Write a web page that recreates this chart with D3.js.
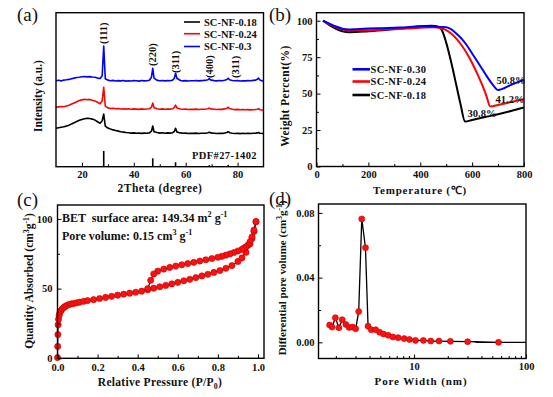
<!DOCTYPE html>
<html><head><meta charset="utf-8">
<script src="https://cdn.jsdelivr.net/npm/d3@7"></script>
<style>body{margin:0;background:#fff}svg{display:block}text{white-space:pre}</style>
</head><body>
<script>
// ---------- (a) XRD ----------
const xrdTheta = [10,11,12,13,14,15,16,17,18,19,20,21,22,23,24,25,26,27,27.8,28.4,29,
 30,31,32,33,34,35,36,37,38,39,40,41,42,43,44,45,46,46.8,47.3,47.8,
 49,50,51,52,53,54,55,55.6,56.1,56.6,58,59,60,61,62,63,64,65,66,67,68,68.6,69.1,69.6,
 71,72,73,74,75,75.9,76.4,76.9,78,79,80,81,82,83,84,85,86,87,87.6,88.1,88.6,90];
const xrdBlue = [86.0,86.4,85.8,86.6,86.9,87.3,88.0,88.6,89.2,89.5,89.9,90.2,89.8,90.1,89.7,89.4,88.6,88.2,
 91.0,120.7,88.0,
 86.6,86.0,86.3,85.7,86.1,85.8,86.2,85.6,86.0,85.7,86.1,85.9,85.6,86.2,85.8,86.0,86.4,
 89.5,98.4,88.5,
 86.3,85.9,86.2,85.8,86.1,86.0,86.6,
 88.5,93.4,88.4,
 86.2,85.8,86.1,85.7,86.0,85.9,86.2,85.8,86.1,86.3,86.6,
 87.0,88.0,86.8,
 86.1,85.8,86.2,85.9,86.5,
 87.2,88.5,87.0,
 86.2,85.9,86.1,85.7,86.0,85.8,86.1,85.9,86.3,86.6,
 87.4,88.6,86.8,
 85.5];
const xrdRed = [59.4,59.8,60.2,60.0,60.8,61.5,62.6,63.8,65.0,66.2,66.8,67.4,67.0,67.3,66.5,65.8,64.4,62.8,
 66.0,79.4,60.5,
 58.8,58.2,58.4,57.9,58.2,57.7,58.0,57.6,57.9,57.5,57.8,57.6,57.3,57.8,57.5,57.7,57.9,
 59.5,63.7,59.0,
 57.9,57.5,57.8,57.4,57.7,57.6,58.0,
 59.0,61.5,58.8,
 57.7,57.4,57.6,57.2,57.5,57.3,57.6,57.2,57.5,57.4,57.7,
 58.0,58.6,57.8,
 57.5,57.2,57.5,57.3,57.8,
 58.4,59.5,58.2,
 57.4,57.1,57.3,57.0,57.2,56.9,57.1,56.8,57.0,57.2,
 57.5,58.0,57.0,
 56.4];
const xrdBlack = [38.4,39.0,39.5,40.0,40.6,41.5,42.8,44.0,45.2,46.4,47.2,48.0,48.4,48.2,47.6,46.6,45.0,43.4,
 46.0,52.7,40.5,
 38.6,37.6,36.8,36.2,35.6,35.0,34.6,34.2,33.9,33.6,33.8,33.4,33.6,33.3,33.6,33.4,33.8,
 35.5,40.7,35.0,
 34.2,33.6,34.0,33.5,33.8,33.6,34.0,
 35.2,38.4,34.8,
 33.8,33.4,33.6,33.2,33.5,33.3,33.6,33.2,33.5,33.4,33.6,
 34.0,34.5,33.8,
 33.5,33.2,33.5,33.3,33.6,
 34.2,35.0,34.0,
 33.5,33.2,33.4,33.1,33.4,33.2,33.5,33.2,33.4,33.6,
 33.8,34.2,33.4,
 33.2];
const pdfTheta = [28.4,47.3,56.1,69.1,76.4];
const pdfInt = [15.7,8.4,4.4,1.5,1.8];
const peakLabels = ["(111)","(220)","(311)","(400)","(311)"];
const peakLabelTheta = [28.4,47.3,56.1,69.1,79];
const xrdSeries = ["SC-NF-0.18","SC-NF-0.24","SC-NF-0.3"];
const xrdTicks = [20,40,60,80];

// ---------- (b) TGA ----------
const tgaNames = ["SC-NF-0.30","SC-NF-0.24","SC-NF-0.18"];
const tBlue = [25,50,75,100,125,150,200,250,300,350,400,450,500,520,540,560,580,600,620,640,660,680,700,750,800];
const wBlue = [100,98,96,94.5,94,94.2,94.6,94.9,95.2,95.5,96.2,96,95.5,94,91,87.5,83,77.5,72,66.5,61,56,52.5,56,59.6];
const tRed = [25,50,75,100,125,150,200,250,300,350,400,450,480,500,520,540,560,580,600,620,640,655,670,700,750,800];
const wRed = [100,97.5,95.5,94,93.5,93.4,93.5,93.8,94.2,94.6,95.2,95.5,94.8,93.5,91,87.5,83,77.5,71,63.5,55.5,48.5,41.2,42.2,44.2,46.3];
const tBlack = [25,50,75,100,125,150,200,250,300,350,400,440,460,480,500,520,540,555,573,600,650,700,750,800];
const wBlack = [100,97,94.5,92.8,92.1,92.2,92.8,93.4,94.3,95.2,96.2,96.6,96.4,94.5,85,71,55,43,30.8,31.9,33.9,35.9,38.1,40.5];
const residueLabels = ["50.8%","41.2%","30.8%"];
const tgaXTicks = [0,200,400,600,800];
const tgaYTicks = [0,25,50,75,100];

// ---------- (c) N2 isotherm ----------
const adsP = [0.0,0.001,0.002,0.003,0.005,0.008,0.012,0.017,0.023,0.03,0.038,0.047,0.057,0.068,0.08,0.095,0.11,0.13,0.15,0.18,0.21,0.24,0.27,0.3,0.33,0.36,0.39,0.42,0.45,0.48,0.51,0.54,0.57,0.6,0.63,0.66,0.69,0.72,0.75,0.78,0.81,0.84,0.87,0.9,0.92,0.94,0.96,0.97,0.98,0.99];
const adsQ = [0.5,8.5,17,24,28,30.8,32.8,34.2,35.3,36.3,37.2,38.0,38.6,39.0,39.3,39.8,40.3,40.9,41.4,42.1,42.9,43.7,44.5,45.3,46.0,46.7,47.4,48.2,49.2,50.3,51.3,52.3,53.4,54.5,55.6,56.7,57.9,59.1,60.3,61.6,63.0,64.6,66.5,69.5,72.0,76.0,82,86,91,98];
const desP = [0.99,0.98,0.97,0.96,0.95,0.94,0.93,0.92,0.9,0.88,0.86,0.84,0.82,0.8,0.77,0.74,0.71,0.68,0.65,0.62,0.59,0.56,0.53,0.5,0.48,0.465,0.45];
const desQ = [98,92,87,83.5,81.2,80.0,79.0,78.2,77.0,75.9,74.9,74.0,73.2,72.5,71.6,70.7,69.8,68.9,68.0,67.1,66.2,65.2,64.0,62.5,60.5,56,50];
const isoXTicks = [0,0.2,0.4,0.6,0.8,1.0];
const isoYTicks = [0,50,100];

// ---------- (d) pore size distribution ----------
const poreW = [1.76,1.85,1.98,2.13,2.28,2.46,2.63,2.82,3.01,3.2,3.41,3.68,3.88,4.15,4.54,4.92,5.34,5.88,6.47,7.21,8.15,9.1,10.3,12.1,14.1,16.7,21.1,30.1,56.8];
const poreV = [0.0107,0.0094,0.0152,0.009,0.014,0.011,0.0092,0.0094,0.0084,0.019,0.0763,0.0585,0.010,0.0078,0.0078,0.0062,0.0051,0.0043,0.0033,0.0029,0.0023,0.0018,0.0012,0.0012,0.0008,0.0008,0.0006,0.0004,0.0];
const poreTailW = [34,36,100];
const poreTailV = [0.0004,0.0,0.0];
const psdXTicks = [10,100];
const psdYTicks = [0,0.04,0.08];

// ================= drawing =================
const FONT = '"Liberation Serif","Times New Roman",serif';
const svg = d3.select("body").append("svg").attr("width",553).attr("height",397);

function addAxis(axis, transform, fs) {
  const a = svg.append("g").attr("transform", transform).call(axis);
  a.select(".domain").remove();
  a.selectAll(".tick line").attr("stroke","#000").attr("stroke-width",1);
  a.selectAll(".tick text").attr("font-family",FONT).attr("font-weight","bold")
   .attr("font-size",fs||10.5).attr("fill","#111");
  return a;
}
function frame(x,y){
  const [x0,x1]=x.range(); const [y1,y0]=y.range();
  svg.append("rect").attr("x",x0).attr("y",y0).attr("width",x1-x0).attr("height",y1-y0)
    .attr("fill","none").attr("stroke","#000").attr("stroke-width",1.4);
}
function txt(s,x,y,o={}){
  const t = svg.append("text").attr("x",x).attr("y",y).attr("font-family",FONT)
    .attr("font-weight",o.w||"bold").attr("font-size",o.fs||11).attr("fill",o.fill||"#111")
    .attr("text-anchor",o.anchor||"start");
  if(o.ls) t.attr("letter-spacing",o.ls);
  if(o.rot) t.attr("transform",`rotate(${o.rot},${x},${y})`);
  if(Array.isArray(s)) rich(t,s,o.fs||11); else t.text(s);
  return t;
}
function rich(sel, parts, fs){
  let shift=0;
  parts.forEach(([s,k])=>{
    const target = k==="sup" ? -0.38*fs : k==="sub" ? 0.28*fs : 0;
    const ts = sel.append("tspan").text(s).attr("dy", target-shift);
    if(k) ts.attr("font-size", fs*0.68);
    shift = target;
  });
}
const zip = (a,b)=>a.map((v,i)=>[v,b[i]]);

// ---- panel (a)
{
  const x = d3.scaleLinear().domain([10,90]).range([56,263.5]);
  const y = d3.scaleLinear().domain([0,154]).range([166.7,12.7]);
  const line = d3.line().x(d=>x(d[0])).y(d=>y(d[1]));
  [[xrdBlack,"#000"],[xrdRed,"#ff0000"],[xrdBlue,"#0000ff"]].forEach(([s,c])=>{
    svg.append("path").datum(zip(xrdTheta,s)).attr("d",line).attr("fill","none")
      .attr("stroke",c).attr("stroke-width",1.6).attr("stroke-linejoin","round");
  });
  svg.selectAll(".pdf").data(zip(pdfTheta,pdfInt)).enter().append("line")
    .attr("x1",d=>x(d[0])).attr("x2",d=>x(d[0])).attr("y1",y(0)).attr("y2",d=>y(d[1]))
    .attr("stroke","#000").attr("stroke-width",1.6);
  frame(x,y);
  addAxis(d3.axisBottom(x).tickValues(xrdTicks).tickSize(-4).tickPadding(4), `translate(0,${y(0)})`);
  addAxis(d3.axisBottom(x).tickValues([30,50,70]).tickSize(-2.5).tickFormat(""), `translate(0,${y(0)})`);
  const lbBottom = [44,66,73,78,78];
  peakLabels.forEach((l,i)=>{
    txt(l, x(peakLabelTheta[i]), lbBottom[i], {rot:-90, fs:10.5}).attr("dy","0.35em");
  });
  const colors=["#000","#ff0000","#0000ff"]; const rows=[22,33.7,46.5];
  xrdSeries.forEach((n,i)=>{
    svg.append("line").attr("x1",184).attr("x2",200).attr("y1",rows[i]).attr("y2",rows[i])
      .attr("stroke",colors[i]).attr("stroke-width",1.6);
    txt(n,204,rows[i]+3.8,{fs:10.5});
  });
  txt("PDF#27-1402",257,158.5,{fs:10.5,anchor:"end",ls:0.4});
  txt("2Theta (degree)",160,192,{fs:11.5,anchor:"middle",ls:0.5});
  txt("Intensity (a.u.)",42,96,{fs:11.5,anchor:"middle",rot:-90});
  txt("(a)",17,21,{fs:19,w:"normal"});
}

// ---- panel (b)
{
  const x = d3.scaleLinear().domain([0,800]).range([316.5,524]);
  const y = d3.scaleLinear().domain([0,105.5]).range([166.5,12.7]);
  const line = d3.line().x(d=>x(d[0])).y(d=>y(d[1])).curve(d3.curveMonotoneX);
  [[tBlack,wBlack,"#000"],[tRed,wRed,"#ff0000"],[tBlue,wBlue,"#0000ff"]].forEach(([t,w,c])=>{
    svg.append("path").datum(zip(t,w)).attr("d",line).attr("fill","none")
      .attr("stroke",c).attr("stroke-width",2);
  });
  frame(x,y);
  addAxis(d3.axisBottom(x).tickValues(tgaXTicks).tickSize(-4).tickPadding(4), `translate(0,${y(0)})`);
  addAxis(d3.axisBottom(x).tickValues([100,300,500,700]).tickSize(-2.5).tickFormat(""), `translate(0,${y(0)})`);
  addAxis(d3.axisLeft(y).tickValues(tgaYTicks).tickSize(-4).tickPadding(4), `translate(${x(0)},0)`);
  addAxis(d3.axisLeft(y).tickValues([12.5,37.5,62.5,87.5]).tickSize(-2.5).tickFormat(""), `translate(${x(0)},0)`);
  const colors=["#0000ff","#ff0000","#000"]; const rows=[69.3,81.5,95];
  tgaNames.forEach((n,i)=>{
    svg.append("line").attr("x1",352.5).attr("x2",370).attr("y1",rows[i]).attr("y2",rows[i])
      .attr("stroke",colors[i]).attr("stroke-width",2.6);
    txt(n,370.5,rows[i]+3.8,{fs:10.5,ls:0.3});
  });
  txt(residueLabels[0],496.5,84,{fs:10.5});
  txt(residueLabels[1],495.5,103,{fs:10.5});
  txt(residueLabels[2],467.5,117,{fs:10.5});
  txt("Temperature (℃)",420,194,{fs:11,anchor:"middle",ls:0.8});
  txt("Weight Percent(%)",289,96,{fs:11.5,anchor:"middle",rot:-90,ls:0.4});
  txt("(b)",269,21,{fs:19,w:"normal"});
}

// ---- panel (c)
{
  const x = d3.scaleLinear().domain([0,1.03]).range([57.5,264]);
  const y = d3.scaleLinear().domain([0,110]).range([358.3,205]);
  const line = d3.line().x(d=>x(d[0])).y(d=>y(d[1]));
  const ads = zip(adsP,adsQ), des = zip(desP,desQ);
  [ads,des].forEach(s=>svg.append("path").datum(s).attr("d",line).attr("fill","none")
      .attr("stroke","#000").attr("stroke-width",1.1));
  svg.selectAll(".iso").data(ads.concat(des)).enter().append("circle")
    .attr("cx",d=>x(d[0])).attr("cy",d=>y(d[1])).attr("r",3.1)
    .attr("fill","#ff1010").attr("stroke","#c00000").attr("stroke-width",0.6);
  frame(x,y);
  addAxis(d3.axisBottom(x).tickValues(isoXTicks).tickFormat(d3.format(".1f")).tickSize(-4).tickPadding(5.5), `translate(0,${y(0)})`);
  addAxis(d3.axisBottom(x).tickValues([0.1,0.3,0.5,0.7,0.9]).tickSize(-2.5).tickFormat(""), `translate(0,${y(0)})`);
  addAxis(d3.axisLeft(y).tickValues(isoYTicks).tickSize(-4).tickPadding(5), `translate(${x(0)},0)`);
  addAxis(d3.axisLeft(y).tickValues([25,75]).tickSize(-2.5).tickFormat(""), `translate(${x(0)},0)`);
  txt([["BET  surface area: 149.34 m"],["2","sup"],[" g"],["-1","sup"]],62,222,{fs:12});
  txt([["Pore volume: 0.15 cm"],["3","sup"],[" g"],["-1","sup"]],62,240,{fs:12});
  txt([["Relative Pressure (P/P"],["0","sub"],[")"]],160,386,{fs:11.5,anchor:"middle",ls:0.3});
  txt([["Quantity Absorbed (cm"],["3","sup"],["g"],["-1","sup"],[")"]],33,281,{fs:11.5,anchor:"middle",rot:-90});
  txt("(c)",17,206,{fs:19,w:"normal"});
}

// ---- panel (d)
{
  const x = d3.scaleLog().domain([1.4,100]).range([318.5,526]);
  const y = d3.scaleLinear().domain([-0.01,0.0855]).range([358.5,204]);
  const line = d3.line().x(d=>x(d[0])).y(d=>y(d[1]));
  const pts = zip(poreW,poreV);
  svg.append("path").datum(pts.concat(zip(poreTailW,poreTailV))).attr("d",line).attr("fill","none")
    .attr("stroke","#000").attr("stroke-width",1.3);
  svg.selectAll(".psd").data(pts).enter().append("circle")
    .attr("cx",d=>x(d[0])).attr("cy",d=>y(d[1])).attr("r",3)
    .attr("fill","#ff1010").attr("stroke","#c00000").attr("stroke-width",0.6);
  frame(x,y);
  addAxis(d3.axisBottom(x).tickValues(psdXTicks).tickFormat(d3.format("d")).tickSize(-4).tickPadding(4), `translate(0,${y(-0.01)})`);
  addAxis(d3.axisBottom(x).tickValues([2,3,4,5,6,7,8,9,20,30,40,50,60,70,80,90]).tickSize(-2.5).tickFormat(""), `translate(0,${y(-0.01)})`);
  addAxis(d3.axisLeft(y).tickValues(psdYTicks).tickFormat(d3.format(".2f")).tickSize(-4).tickPadding(4), `translate(${x(1.4)},0)`);
  addAxis(d3.axisLeft(y).tickValues([0.02,0.06]).tickSize(-2.5).tickFormat(""), `translate(${x(1.4)},0)`);
  txt("Pore Width (nm)",421,385,{fs:11,anchor:"middle",ls:0.9});
  txt([["Differential pore volume (cm"],["3","sup"],["g"],["-1","sup"],[")"]],286,278,{fs:11,anchor:"middle",rot:-90});
  txt("(d)",269,205,{fs:19,w:"normal"});
}
</script></body></html>
